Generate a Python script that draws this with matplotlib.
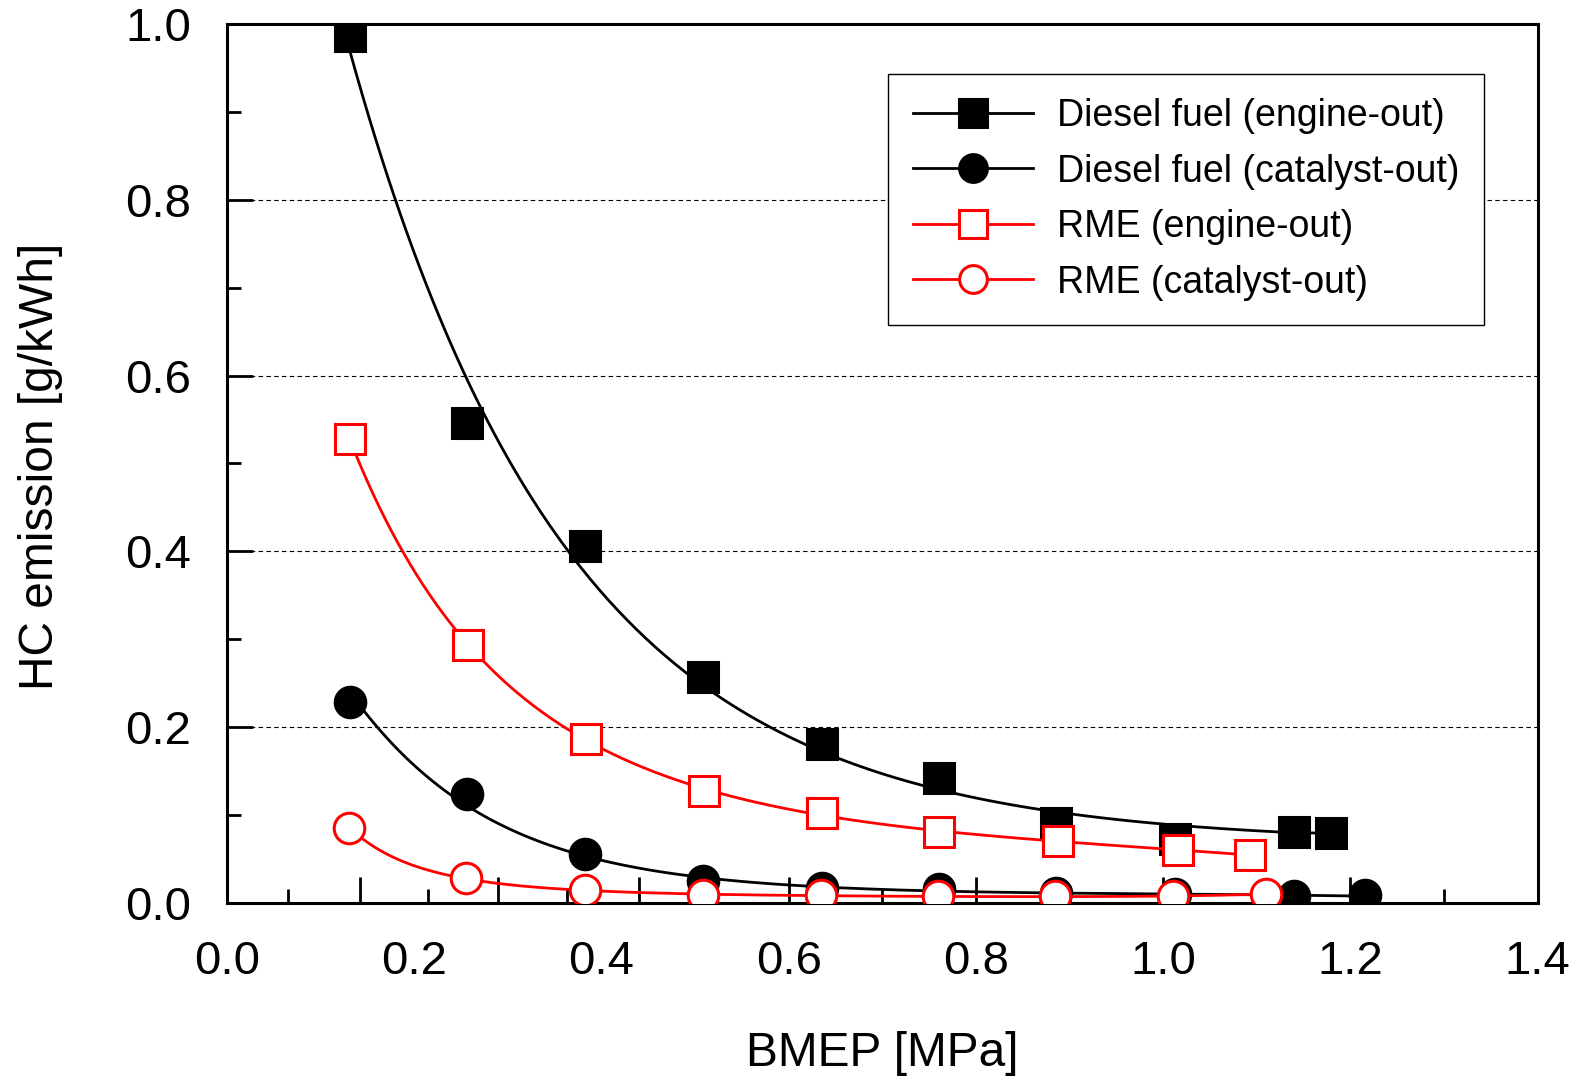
import numpy as np
import matplotlib
matplotlib.use('Agg')
import matplotlib.pyplot as plt

plt.rcParams['font.family'] = ['Liberation Sans', 'DejaVu Sans']

# BMEP [MPa] and HC emission [g/kWh]
bmep_de = [0.131, 0.256, 0.383, 0.509, 0.636, 0.761, 0.886, 1.013, 1.140, 1.179]
hc_de = [0.987, 0.546, 0.406, 0.257, 0.180, 0.142, 0.090, 0.072, 0.080, 0.079]

bmep_dc = [0.131, 0.256, 0.383, 0.509, 0.636, 0.761, 0.886, 1.013, 1.140, 1.216]
hc_dc = [0.228, 0.123, 0.055, 0.024, 0.017, 0.015, 0.011, 0.010, 0.007, 0.008]

bmep_re = [0.131, 0.258, 0.384, 0.510, 0.636, 0.761, 0.888, 1.016, 1.093]
hc_re = [0.528, 0.293, 0.186, 0.127, 0.102, 0.080, 0.070, 0.060, 0.054]

bmep_rc = [0.130, 0.255, 0.382, 0.509, 0.635, 0.760, 0.885, 1.011, 1.110]
hc_rc = [0.085, 0.028, 0.014, 0.009, 0.008, 0.007, 0.007, 0.007, 0.010]

labels = ['Diesel fuel (engine-out)', 'Diesel fuel (catalyst-out)',
          'RME (engine-out)', 'RME (catalyst-out)']

# tick marks in the original are not evenly spaced on the left part
x_major_marks = [0.142, 0.290, 0.440, 0.6, 0.8, 1.0, 1.2]
x_minor_marks = [0.065, 0.215, 0.363, 0.515, 0.7, 0.9, 1.1, 1.3]
x_labels = [0.0, 0.2, 0.4, 0.6, 0.8, 1.0, 1.2, 1.4]


def smooth(x, y, deg, log=False):
    x = np.asarray(x)
    y = np.asarray(y)
    xs = np.linspace(x.min(), x.max(), 300)
    if log:
        p = np.polyfit(x, np.log(y), deg)
        return xs, np.exp(np.polyval(p, xs))
    p = np.polyfit(x, y, deg)
    return xs, np.polyval(p, xs)


def expfit(x, y):
    # y = a + b*exp(-c*x), least squares over a grid of c
    x = np.asarray(x)
    y = np.asarray(y)
    best = None
    for c in np.linspace(0.5, 15, 600):
        A = np.column_stack([np.ones_like(x), np.exp(-c * x)])
        coef, res, *_ = np.linalg.lstsq(A, y, rcond=None)
        err = np.sum((A @ coef - y) ** 2)
        if best is None or err < best[0]:
            best = (err, c, coef)
    _, c, (a, b) = best
    xs = np.linspace(x.min(), x.max(), 300)
    return xs, a + b * np.exp(-c * xs)


fig = plt.figure(figsize=(15.81, 10.77), dpi=100)
ax = fig.add_axes([0.1435, 0.162, 0.8291, 0.8155])

series = [
    (bmep_de, hc_de, 'k', 's', 'k', 2),
    (bmep_dc, hc_dc, 'k', 'o', 'k', 2),
    (bmep_re, hc_re, 'r', 's', 'w', 3),
    (bmep_rc, hc_rc, 'r', 'o', 'w', 3),
]
for i, (x, y, c, m, fc, z) in enumerate(series):
    if i == 0:
        xs, ys = expfit(x[:-1], y[:-1])
        xs = np.append(xs, x[-1])
        ys = np.append(ys, y[-1])
    else:
        xs, ys = smooth(x, y, 4, True)
    ax.plot(xs, ys, color=c, lw=2, zorder=z)
    ax.plot(x, y, ls='none', marker=m, ms=22, mfc=fc, mec=c, mew=2.2, zorder=z + 0.5)
    ax.plot([], [], color=c, lw=2, marker=m, ms=20, mfc=fc, mec=c, mew=2.2, label=labels[i])

ax.set_xlim(0, 1.4)
ax.set_ylim(0, 1.0)

for yv in [0.2, 0.4, 0.6, 0.8]:
    ax.axhline(yv, color='k', lw=0.8, ls=(0, (4, 3)), zorder=1)

ax.set_xticks(x_major_marks)
ax.set_xticks(x_minor_marks, minor=True)
ax.tick_params(axis='x', which='both', labelbottom=False, direction='in')
ax.tick_params(axis='x', which='major', length=19, width=2)
ax.tick_params(axis='x', which='minor', length=10, width=2)

sec = ax.secondary_xaxis('bottom')
sec.set_xticks(x_labels)
sec.set_xticklabels(['%.1f' % v for v in x_labels])
sec.tick_params(length=0, pad=27, labelsize=34)
sec.spines['bottom'].set_visible(False)

ax.set_yticks(np.arange(0, 1.01, 0.2))
ax.set_yticks(np.arange(0.1, 1.0, 0.2), minor=True)
ax.set_yticklabels(['%.1f' % v for v in np.arange(0, 1.01, 0.2)])
ax.tick_params(axis='y', which='both', direction='in', labelsize=34, pad=26)
ax.tick_params(axis='y', which='major', length=19, width=2)
ax.tick_params(axis='y', which='minor', length=10, width=2)

for s in ax.spines.values():
    s.set_linewidth(2.2)

ax.set_xlabel('BMEP [MPa]', fontsize=34.5)
ax.xaxis.set_label_coords(0.5, -0.146)
ax.set_ylabel('HC emission [g/kWh]', fontsize=34.5)
ax.yaxis.set_label_coords(-0.125, 0.497)

leg = ax.legend(loc='upper right', bbox_to_anchor=(0.9589, 0.9437), borderaxespad=0,
                fontsize=27, handlelength=3.2, handletextpad=0.65, labelspacing=0.52,
                borderpad=0.65, fancybox=False, framealpha=1, edgecolor='k')
leg.get_frame().set_linewidth(1)
leg.set_zorder(10)

fig.savefig('out.png', dpi=100)
